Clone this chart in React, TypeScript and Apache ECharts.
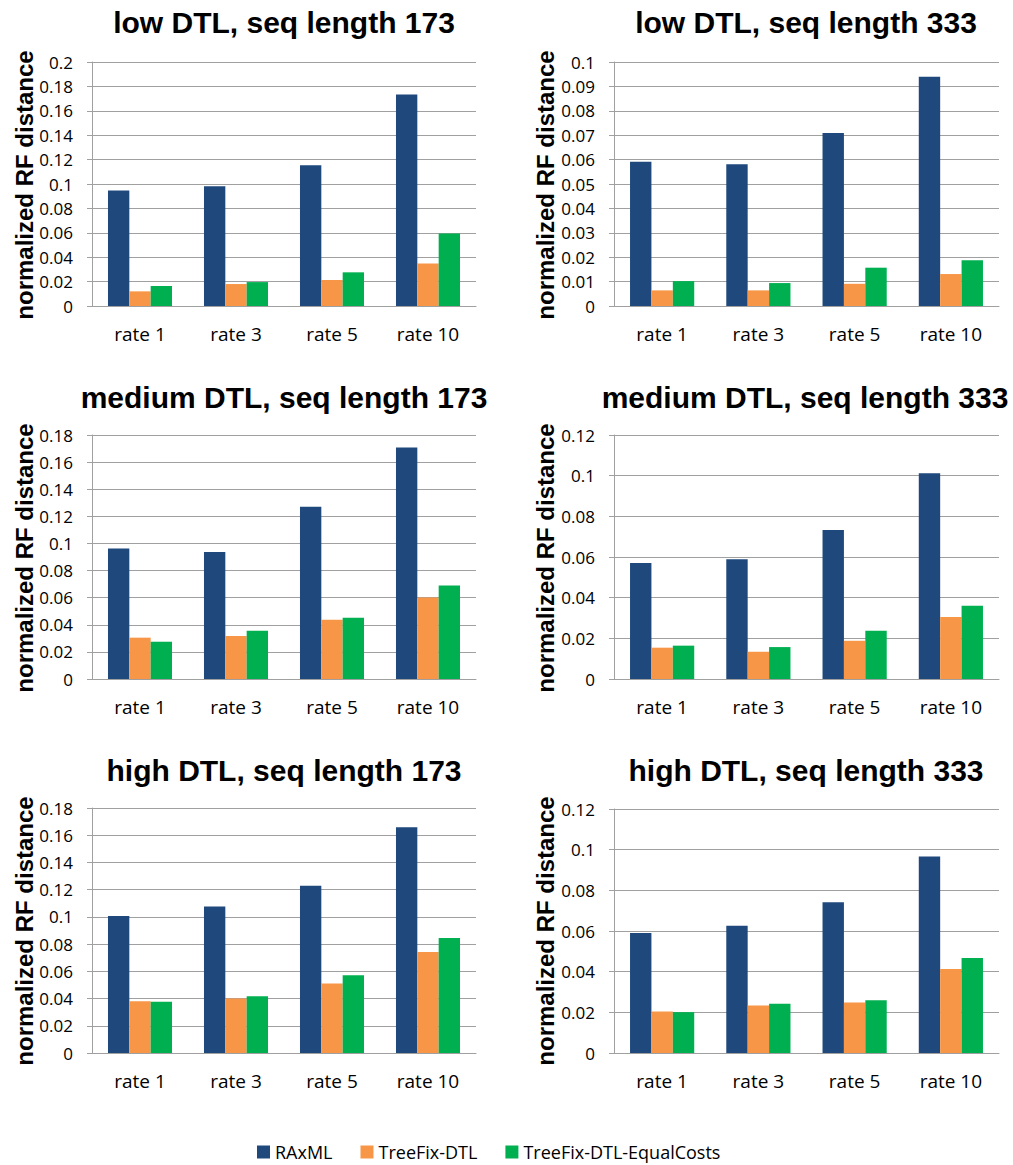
import React, { useEffect, useRef } from "react";
import * as echarts from "echarts";

const categories = ["rate 1", "rate 3", "rate 5", "rate 10"];
const seriesNames = ["RAxML", "TreeFix-DTL", "TreeFix-DTL-EqualCosts"];
const colors = ["#1F497D", "#F79646", "#00B050"];

const titles = [
  "low DTL, seq length 173",
  "low DTL, seq length 333",
  "medium DTL, seq length 173",
  "medium DTL, seq length 333",
  "high DTL, seq length 173",
  "high DTL, seq length 333",
];

// [RAxML, TreeFix-DTL, TreeFix-DTL-EqualCosts] per panel
const lowRaxml173 = [0.0947, 0.0982, 0.1154, 0.1733];
const lowTfx173 = [0.012, 0.018, 0.0213, 0.0349];
const lowEq173 = [0.0164, 0.0196, 0.0276, 0.0595];

const lowRaxml333 = [0.0591, 0.0581, 0.0709, 0.094];
const lowTfx333 = [0.0064, 0.0064, 0.0091, 0.0131];
const lowEq333 = [0.0102, 0.0094, 0.0157, 0.0187];

const medRaxml173 = [0.0963, 0.0936, 0.127, 0.1707];
const medTfx173 = [0.0305, 0.0317, 0.0437, 0.0602];
const medEq173 = [0.0275, 0.0356, 0.0452, 0.069];

const medRaxml333 = [0.057, 0.0589, 0.0733, 0.1012];
const medTfx333 = [0.0154, 0.0134, 0.0188, 0.0305];
const medEq333 = [0.0164, 0.0157, 0.0237, 0.036];

const highRaxml173 = [0.1007, 0.1076, 0.1228, 0.1658];
const highTfx173 = [0.0381, 0.04, 0.0511, 0.0742];
const highEq173 = [0.0376, 0.0417, 0.0572, 0.0845];

const highRaxml333 = [0.059, 0.0626, 0.0741, 0.0967];
const highTfx333 = [0.0204, 0.0233, 0.0248, 0.0413];
const highEq333 = [0.0201, 0.0242, 0.026, 0.0467];

const panelData = [
  [lowRaxml173, lowTfx173, lowEq173],
  [lowRaxml333, lowTfx333, lowEq333],
  [medRaxml173, medTfx173, medEq173],
  [medRaxml333, medTfx333, medEq333],
  [highRaxml173, highTfx173, highEq173],
  [highRaxml333, highTfx333, highEq333],
];

const yMax = [0.2, 0.1, 0.18, 0.12, 0.18, 0.12];
const yInterval = [0.02, 0.01, 0.02, 0.02, 0.02, 0.02];

const yAxisName = "normalized RF distance";

// layout
const grids = [
  { left: 92, top: 62, width: 384, height: 244 },
  { left: 614, top: 62, width: 385, height: 244 },
  { left: 92, top: 435, width: 384, height: 244 },
  { left: 614, top: 435, width: 385, height: 244 },
  { left: 92, top: 808, width: 384, height: 245 },
  { left: 614, top: 809, width: 385, height: 244 },
];
const titlePos = [
  [284, 22],
  [806, 22],
  [284, 397],
  [805, 397],
  [284, 770],
  [806, 770],
];
const namePos = [
  [24, 185],
  [545, 185],
  [24, 558],
  [545, 558],
  [24, 931],
  [545, 931],
];

const GRID_COLOR = "#A0A0A0";
const SANS = "'Open Sans', sans-serif";
const BOLD = "'Liberation Sans', Arial, sans-serif";

export default function App() {
  const ref = useRef<HTMLDivElement>(null);

  useEffect(() => {
    if (!ref.current) return;
    const chart = echarts.init(ref.current, undefined, { renderer: "svg" });

    const graphics: any[] = [];
    titles.forEach((t, i) => {
      graphics.push({
        type: "text",
        x: titlePos[i][0],
        y: titlePos[i][1],
        style: {
          text: t,
          fill: "#000",
          font: `bold 30px ${BOLD}`,
          textAlign: "center",
          textVerticalAlign: "middle",
        },
      });
      graphics.push({
        type: "text",
        x: namePos[i][0],
        y: namePos[i][1],
        rotation: Math.PI / 2,
        style: {
          text: yAxisName,
          fill: "#000",
          font: `bold 24px ${BOLD}`,
          textAlign: "center",
          textVerticalAlign: "middle",
        },
      });
    });

    const series: any[] = [];
    panelData.forEach((pd, i) => {
      pd.forEach((vals, s) => {
        series.push({
          name: seriesNames[s],
          type: "bar",
          xAxisIndex: i,
          yAxisIndex: i,
          data: vals,
          barGap: "0%",
          barCategoryGap: "33.3%",
          itemStyle: { color: colors[s] },
        });
      });
    });

    chart.setOption({
      animation: false,
      backgroundColor: "#fff",
      grid: grids.map((g) => ({ ...g, containLabel: false })),
      xAxis: grids.map((_, i) => ({
        type: "category",
        gridIndex: i,
        data: categories,
        axisLine: { show: true, lineStyle: { color: GRID_COLOR, width: 1 } },
        axisTick: { show: false },
        axisLabel: { color: "#000", fontSize: 19, fontFamily: SANS, margin: 18 },
      })),
      yAxis: grids.map((_, i) => ({
        type: "value",
        gridIndex: i,
        min: 0,
        max: yMax[i],
        interval: yInterval[i],
        axisLine: { show: true, lineStyle: { color: GRID_COLOR, width: 1 } },
        axisTick: { show: true, length: 5, lineStyle: { color: GRID_COLOR } },
        axisLabel: { color: "#000", fontSize: 17, fontFamily: SANS, margin: 19 },
        splitLine: { show: true, lineStyle: { color: GRID_COLOR, width: 1 } },
      })),
      legend: {
        data: seriesNames,
        left: 252,
        top: 1138,
        itemWidth: 13,
        itemHeight: 13,
        itemGap: 28,
        icon: "rect",
        textStyle: { color: "#000", fontSize: 18, fontFamily: SANS },
      },
      graphic: graphics,
      series,
    });

    return () => chart.dispose();
  }, []);

  return (
    <div
      ref={ref}
      style={{ position: "absolute", left: 0, top: 0, width: 1013, height: 1165 }}
    />
  );
}
